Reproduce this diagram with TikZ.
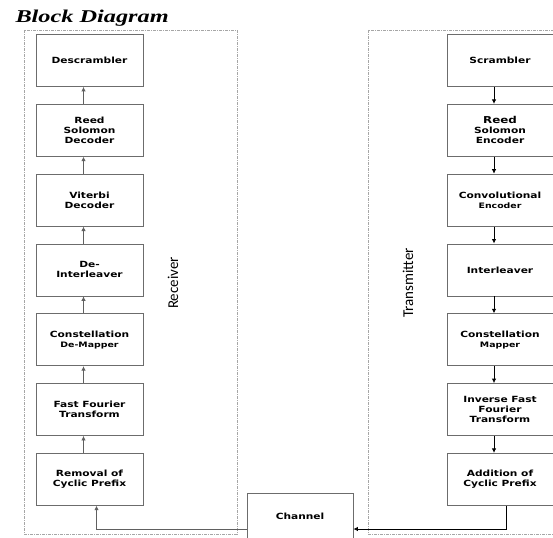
\documentclass[tikz,border=0pt]{standalone}
\usepackage{fontspec}
\usetikzlibrary{positioning,arrows.meta}
\newfontfamily\blockfont[FakeStretch=1.25]{DejaVu Sans}
\newfontfamily\sidefont{Carlito}
\newfontfamily\titlefont[FakeStretch=1.35]{Liberation Serif}
\newcommand{\smline}[1]{{\fontsize{7.5}{8.5}\selectfont #1}}
\tikzset{
    block/.style={draw=gray!85!black, line width=0.8pt, fill=white, minimum width=107pt, minimum height=52pt,
        align=center, inner sep=2pt, font=\blockfont\bfseries\fontsize{8.5}{10}\selectfont},
    frame/.style={draw=gray!70, line width=0.7pt, dash pattern=on 3pt off 1pt on 1pt off 1pt},
    uparrow/.style={draw=gray!75!black, line width=0.8pt, -{Latex[length=4.5pt,width=4.5pt]}},
    downarrow/.style={draw=black, line width=0.8pt, -{Latex[length=4.5pt,width=4.5pt]}},
    side/.style={rotate=90, font=\sidefont\fontsize{15}{15}\selectfont},
}
\begin{document}
\begin{tikzpicture}[x=1pt,y=-1pt]
    \useasboundingbox (0,0) rectangle (553,537); % page size of the reference
    \node[anchor=base west, font=\titlefont\bfseries\itshape\fontsize{18}{18}\selectfont] (title) at (12,23) {Block Diagram};
    \draw[frame] (24,30) rectangle (237,534); % receiver frame
    \draw[frame] (368,30) rectangle (560,534); % transmitter frame
    % receiver chain, bottom to top
    \node[block] (descr) at (89.5,60.5) {Descrambler};
    \node[block, below=17pt of descr] (rsdec) {Reed\\Solomon\\Decoder};
    \node[block, below=17pt of rsdec] (vit) {Viterbi\\Decoder};
    \node[block, below=17pt of vit] (deint) {De-\\Interleaver};
    \node[block, below=17pt of deint] (demap) {Constellation\\\smline{De-Mapper}};
    \node[block, below=17pt of demap] (fft) {Fast Fourier\\Transform};
    \node[block, below=17pt of fft] (remcp) {Removal of\\Cyclic Prefix};
    % transmitter chain, top to bottom
    \node[block, minimum width=106pt] (scr) at (500,60.5) {Scrambler};
    \node[block, minimum width=106pt, below=17pt of scr] (rsenc) {{\fontsize{9.5}{10}\selectfont Reed}\\Solomon\\Encoder};
    \node[block, minimum width=106pt, below=17pt of rsenc] (conv) {Convolutional\\\smline{Encoder}};
    \node[block, minimum width=106pt, below=17pt of conv] (inter) {Interleaver};
    \node[block, minimum width=106pt, below=17pt of inter] (map) {Constellation\\\smline{Mapper}};
    \node[block, minimum width=106pt, below=17pt of map] (ifft) {Inverse Fast\\Fourier\\Transform};
    \node[block, minimum width=106pt, below=17pt of ifft] (addcp) {Addition of\\Cyclic Prefix};
    \node[block, minimum width=106pt, minimum height=46pt] (chan) at (300,516) {Channel};
    \node[side] (rx) at (173,283) {Receiver};
    \node[side] (tx) at (408,283) {Transmitter};
    \foreach \a/\b in {rsdec/descr, vit/rsdec, deint/vit, demap/deint, fft/demap, remcp/fft}
        \draw[uparrow] ([xshift=-6pt]\a.north) -- ([xshift=-6pt]\b.south);
    \foreach \a/\b in {scr/rsenc, rsenc/conv, conv/inter, inter/map, map/ifft, ifft/addcp}
        \draw[downarrow] ([xshift=-6pt]\a.south) -- ([xshift=-6pt]\b.north);
    \draw[downarrow] ([xshift=6pt]addcp.south) |- ([yshift=-13pt]chan.east); % into the channel
    \draw[uparrow] ([yshift=-13pt]chan.west) -| ([xshift=7pt]remcp.south); % out of the channel
\end{tikzpicture}
\end{document}
